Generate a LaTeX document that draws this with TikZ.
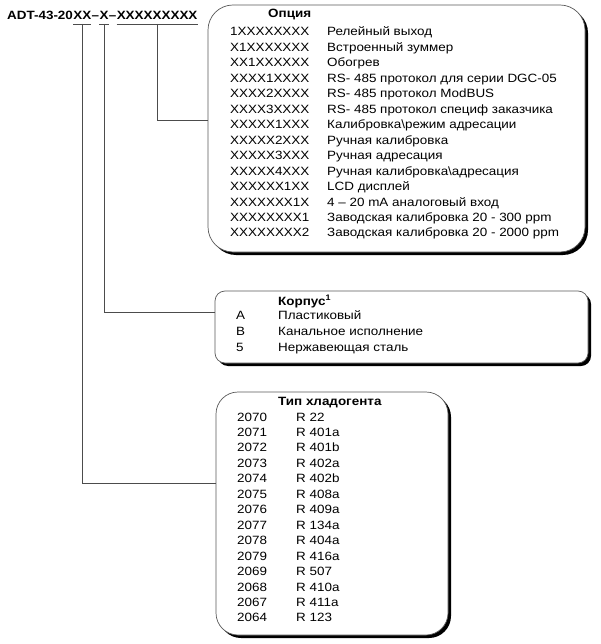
\documentclass[tikz,border=0pt]{standalone}
\usepackage{fontspec}
\setmainfont{Liberation Sans}[FakeStretch=1.12]
\usetikzlibrary{positioning, shadows}

\tikzset{
    panel/.style={draw=black!65, fill=white, line width=0.7pt,
        drop shadow={shadow xshift=3pt, shadow yshift=-3pt, fill=black, opacity=1}},
    txt/.style={anchor=base west, inner sep=0pt},
    ttl/.style={txt, font=\fontsize{12}{14}\selectfont\bfseries},
    lead/.style={draw=black!70, line width=0.6pt},
}

\begin{document}
\begin{tikzpicture}[x=1pt, y=-1pt, font=\fontsize{12}{14}\selectfont]
    \useasboundingbox (0,0) rectangle (600,644);

    % код заказа
    \node[ttl] (pre) at (7,20) {ADT-43-20};
    \node[ttl, base right=0pt of pre] (xx) {XX};
    \node[ttl, base right=0pt of xx] (d1) {–};
    \node[ttl, base right=0pt of d1] (x) {X};
    \node[ttl, base right=0pt of x] (d2) {–};
    \node[ttl, base right=0pt of d2] (tail) {XXXXXXXXX};
    \foreach \n in {xx, x, tail} {
        \draw[lead] ([yshift=-4pt]\n.base west) -- ([yshift=-4pt]\n.base east);
        \coordinate (\n u) at ([yshift=-4pt]\n.base);
    }

    % рамки
    \node[panel, rounded corners=25pt, minimum width=377pt, minimum height=247pt] (opt) at (396.5,128.5) {};
    \node[panel, rounded corners=10pt, minimum width=373pt, minimum height=72pt] (body) at (401.5,327) {};
    \node[panel, rounded corners=22pt, minimum width=232pt, minimum height=243pt] (gas) at (332,513.5) {};

    % выноски
    \draw[lead] (tailu) |- ([yshift=8.5pt]opt.west);
    \draw[lead] (xu) |- ([yshift=15pt]body.west);
    \draw[lead] (xxu) |- ([yshift=30.5pt]gas.west);

    % Опция
    \node[ttl] (opth) at (268,18) {Опция};
    \foreach \c/\t [count=\i] in {
        1XXXXXXXX/Релейный выход,
        X1XXXXXXX/Встроенный зуммер,
        XX1XXXXXX/Обогрев,
        XXXX1XXXX/RS- 485 протокол для серии DGC-05,
        XXXX2XXXX/RS- 485 протокол ModBUS,
        XXXX3XXXX/RS- 485 протокол специф заказчика,
        XXXXX1XXX/Калибровка\textbackslash режим адресации,
        XXXXX2XXX/Ручная калибровка,
        XXXXX3XXX/Ручная адресация,
        XXXXX4XXX/Ручная калибровка\textbackslash адресация,
        XXXXXX1XX/LCD дисплей,
        XXXXXXX1X/4 – 20 mA аналоговый вход,
        XXXXXXXX1/Заводская калибровка 20 - 300 ppm,
        XXXXXXXX2/Заводская калибровка 20 - 2000 ppm} {
        \node[txt] (oc\i) at (230,20.54+15.46*\i) {\c};
        \node[txt] (od\i) at (327,20.54+15.46*\i) {\t};
    }

    % Корпус
    \node[ttl] (bodyh) at (278,305) {Корпус\textsuperscript{1}};
    \foreach \c/\t [count=\i] in {A/Пластиковый, B/Канальное исполнение, 5/Нержавеющая сталь} {
        \node[txt] (bc\i) at (236,303+16*\i) {\c};
        \node[txt] (bd\i) at (278,303+16*\i) {\t};
    }

    % Тип хладогента
    \node[ttl] (gash) at (278,405) {Тип хладогента};
    \foreach \c/\t [count=\i] in {
        2070/R 22, 2071/R 401a, 2072/R 401b, 2073/R 402a, 2074/R 402b,
        2075/R 408a, 2076/R 409a, 2077/R 134a, 2078/R 404a, 2079/R 416a,
        2069/R 507, 2068/R 410a, 2067/R 411a, 2064/R 123} {
        \node[txt] (gc\i) at (237,405.54+15.46*\i) {\c};
        \node[txt] (gd\i) at (296,405.54+15.46*\i) {\t};
    }
\end{tikzpicture}
\end{document}
